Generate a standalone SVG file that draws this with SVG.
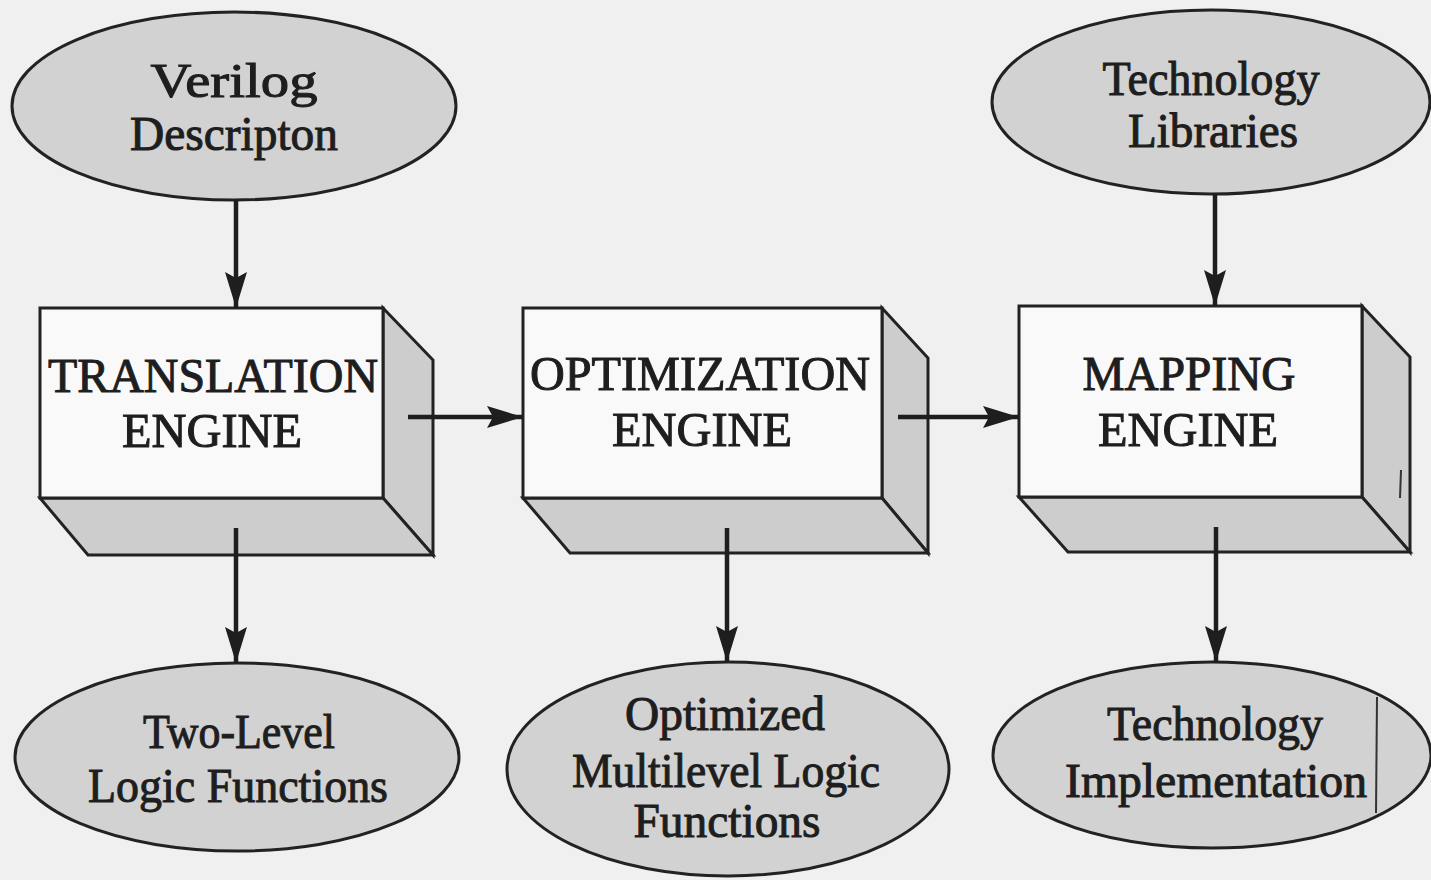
<svg xmlns="http://www.w3.org/2000/svg" width="1431" height="880" viewBox="0 0 1431 880">
  <defs>
    <marker id="arrowhead" markerUnits="userSpaceOnUse" markerWidth="38" markerHeight="24" refX="36" refY="11" orient="auto">
      <path d="M0,0 L36,11 L0,22 L6,11 Z" fill="#1e1e1e"/>
    </marker>
    <style>
      .oval { fill: #d2d2d2; stroke: #222; stroke-width: 3; }
      .front { fill: #f9f9f9; stroke: #222; stroke-width: 3; stroke-linejoin: miter; }
      .face { fill: #cdcdcd; stroke: #222; stroke-width: 3; stroke-linejoin: miter; }
      .label { font-family: "Liberation Serif", "Times New Roman", serif; font-size: 48px; fill: #1e1e1e; stroke: #1e1e1e; stroke-width: 1; text-anchor: middle; }
      .link { stroke: #1e1e1e; stroke-width: 4.5; fill: none; marker-end: url(#arrowhead); }
      .mark { stroke: #333; stroke-width: 2; fill: none; }
    </style>
  </defs>

  <rect x="0" y="0" width="1431" height="880" fill="#f0f0f0"/>

  <!-- inputs -->
  <g id="verilog">
    <ellipse class="oval" cx="234" cy="106" rx="222" ry="94"/>
    <text class="label" x="234" y="97" textLength="167" lengthAdjust="spacingAndGlyphs">Verilog</text>
    <text class="label" x="234" y="150" textLength="208" lengthAdjust="spacingAndGlyphs">Descripton</text>
  </g>

  <g id="tech-libraries">
    <ellipse class="oval" cx="1211" cy="102" rx="219" ry="92"/>
    <text class="label" x="1211" y="95" textLength="217" lengthAdjust="spacingAndGlyphs">Technology</text>
    <text class="label" x="1213" y="147" textLength="170" lengthAdjust="spacingAndGlyphs">Libraries</text>
  </g>

  <!-- engines: front face, right face, bottom face -->
  <g id="translation-engine">
    <polygon class="face" points="383,308 433,360 433,555 383,498"/>
    <polygon class="face" points="40,498 383,498 433,555 88,555"/>
    <rect class="front" x="40" y="308" width="343" height="190"/>
    <text class="label" x="213" y="392" textLength="330" lengthAdjust="spacingAndGlyphs">TRANSLATION</text>
    <text class="label" x="212" y="447" textLength="180" lengthAdjust="spacingAndGlyphs">ENGINE</text>
  </g>

  <g id="optimization-engine">
    <polygon class="face" points="882,308 928,358 928,553 882,498"/>
    <polygon class="face" points="523,498 882,498 928,553 570,553"/>
    <rect class="front" x="523" y="308" width="359" height="190"/>
    <text class="label" x="700" y="390" textLength="340" lengthAdjust="spacingAndGlyphs">OPTIMIZATION</text>
    <text class="label" x="702" y="446" textLength="180" lengthAdjust="spacingAndGlyphs">ENGINE</text>
  </g>

  <g id="mapping-engine">
    <polygon class="face" points="1362,306 1410,357 1410,552 1362,497"/>
    <polygon class="face" points="1019,497 1362,497 1410,552 1068,552"/>
    <rect class="front" x="1019" y="306" width="343" height="191"/>
    <text class="label" x="1189" y="390" textLength="213" lengthAdjust="spacingAndGlyphs">MAPPING</text>
    <text class="label" x="1188" y="446" textLength="180" lengthAdjust="spacingAndGlyphs">ENGINE</text>
    <path class="mark" d="M1401,470 L1400,498"/>
  </g>

  <!-- outputs -->
  <g id="two-level">
    <ellipse class="oval" cx="237" cy="757" rx="222" ry="94"/>
    <text class="label" x="239" y="748" textLength="192" lengthAdjust="spacingAndGlyphs">Two-Level</text>
    <text class="label" x="238" y="802" textLength="300" lengthAdjust="spacingAndGlyphs">Logic Functions</text>
  </g>

  <g id="multilevel">
    <ellipse class="oval" cx="728" cy="769" rx="221" ry="107"/>
    <text class="label" x="725" y="730" textLength="200" lengthAdjust="spacingAndGlyphs">Optimized</text>
    <text class="label" x="726" y="787" textLength="308" lengthAdjust="spacingAndGlyphs">Multilevel Logic</text>
    <text class="label" x="727" y="837" textLength="187" lengthAdjust="spacingAndGlyphs">Functions</text>
  </g>

  <g id="tech-implementation">
    <ellipse class="oval" cx="1212" cy="755" rx="219" ry="93"/>
    <text class="label" x="1215" y="740" textLength="216" lengthAdjust="spacingAndGlyphs">Technology</text>
    <text class="label" x="1216" y="797" textLength="302" lengthAdjust="spacingAndGlyphs">Implementation</text>
    <path class="mark" d="M1377,697 L1376,813"/>
  </g>

  <!-- flow arrows -->
  <g id="connectors">
    <line class="link" x1="236" y1="200" x2="236" y2="308"/>
    <line class="link" x1="1215" y1="194" x2="1215" y2="306"/>
    <line class="link" x1="408" y1="417" x2="523" y2="417"/>
    <line class="link" x1="898" y1="417" x2="1019" y2="417"/>
    <line class="link" x1="236" y1="528" x2="236" y2="663"/>
    <line class="link" x1="727" y1="528" x2="727" y2="662"/>
    <line class="link" x1="1216" y1="527" x2="1216" y2="662"/>
  </g>
</svg>
